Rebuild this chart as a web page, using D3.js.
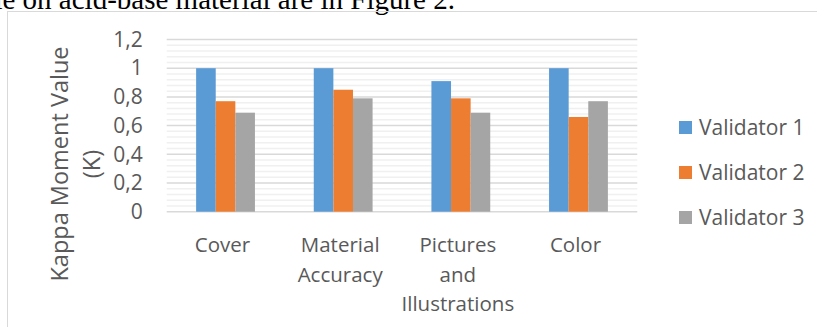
<!DOCTYPE html>
<html>
<head>
<meta charset="utf-8">
<script src="https://cdn.jsdelivr.net/npm/d3@7"></script>
<style>
  body { margin: 0; background: #fff; }
  text { font-family: "Open Sans", sans-serif; fill: #595959; }
</style>
</head>
<body>
<div id="chart"></div>
<script>
let categories = [["Cover"], ["Material", "Accuracy"], ["Pictures", "and", "Illustrations"], ["Color"]],
    seriesNames = ["Validator 1", "Validator 2", "Validator 3"],
    validator1 = [1, 1, 0.91, 1],
    validator2 = [0.77, 0.85, 0.79, 0.66],
    validator3 = [0.69, 0.79, 0.69, 0.77],
    tickValues = [0, 0.2, 0.4, 0.6, 0.8, 1, 1.2],
    colors = ["#5b9bd5", "#ed7d31", "#a5a5a5"];

let series = [validator1, validator2, validator3];

let svg = d3.select("#chart").append("svg").attr("width", 817).attr("height", 327),
    margin = { top: 39.5, left: 166.7, right: 179.7, bottom: 115.3 },
    width = 817 - margin.left - margin.right,
    height = 327 - margin.top - margin.bottom;

// text from the page above the chart
svg.append("text")
    .attr("x", 455)
    .attr("y", 8.5)
    .attr("text-anchor", "end")
    .style("font-family", "'Liberation Serif', serif")
    .style("font-size", "29px")
    .style("fill", "#000")
    .text("ble on acid-base material are in Figure 2.");

// chart frame
svg.append("rect")
    .attr("x", 7.5).attr("y", 11.5)
    .attr("width", 900).attr("height", 400)
    .attr("fill", "none")
    .attr("stroke", "#d9d9d9");

let g = svg.append("g").attr("transform", `translate(${margin.left},${margin.top})`);

let x0 = d3.scaleBand().domain(d3.range(categories.length)).range([0, width]),
    x1 = d3.scaleBand().domain(d3.range(series.length)).range([x0.bandwidth() * 0.25, x0.bandwidth() * 0.75]),
    y = d3.scaleLinear().domain([0, 1.2]).range([height, 0]);

// minor gridlines
g.append("g").selectAll("line")
    .data(d3.range(0, 1.2001, 0.04).filter((v, i) => i % 5 != 0))
    .join("line")
    .attr("x1", 0).attr("x2", width)
    .attr("y1", d => y(d)).attr("y2", d => y(d))
    .attr("stroke", "#f0f0f0")
    .attr("stroke-width", 1.5);

// major gridlines
g.append("g").selectAll("line")
    .data(tickValues)
    .join("line")
    .attr("x1", 0).attr("x2", width)
    .attr("y1", d => y(d)).attr("y2", d => y(d))
    .attr("stroke", "#d9d9d9")
    .attr("stroke-width", 1.5);

// y tick labels
g.append("g")
    .call(d3.axisLeft(y).tickValues(tickValues).tickSize(0).tickPadding(24)
        .tickFormat(d => String(d).replace(".", ",")))
    .call(a => a.select(".domain").remove())
    .selectAll("text")
    .style("font-size", "21px")
    .attr("fill", null);

// bars
g.append("g").selectAll("g")
    .data(categories)
    .join("g")
    .attr("transform", (d, i) => `translate(${x0(i)},0)`)
    .selectAll("rect")
    .data((d, i) => series.map((s, j) => ({ j: j, v: s[i] })))
    .join("rect")
    .attr("x", d => x1(d.j))
    .attr("width", x1.bandwidth())
    .attr("y", d => y(d.v))
    .attr("height", d => height - y(d.v))
    .attr("fill", d => colors[d.j]);

// category labels
g.append("g").selectAll("text")
    .data(categories)
    .join("text")
    .attr("transform", (d, i) => `translate(${x0(i) + x0.bandwidth() / 2 - 3},${height + 40.5})`)
    .attr("text-anchor", "middle")
    .style("font-size", "20.5px")
    .selectAll("tspan")
    .data(d => d)
    .join("tspan")
    .attr("x", 0)
    .attr("dy", (d, i) => i ? 29.5 : 0)
    .text(d => d);

// y axis title
svg.append("text")
    .attr("transform", `translate(68,164) rotate(-90)`)
    .attr("text-anchor", "middle")
    .style("font-size", "23.5px")
    .selectAll("tspan")
    .data(["Kappa Moment Value", "(K)"])
    .join("tspan")
    .attr("x", 0)
    .attr("dy", (d, i) => i ? 32 : 0)
    .text(d => d);

// legend
let legend = svg.append("g").attr("transform", "translate(679,121)")
    .selectAll("g")
    .data(seriesNames)
    .join("g")
    .attr("transform", (d, i) => `translate(0,${i * 45})`);

legend.append("rect")
    .attr("width", 13).attr("height", 13)
    .attr("fill", (d, i) => colors[i]);

legend.append("text")
    .attr("x", 20)
    .attr("y", 14)
    .style("font-size", "21px")
    .text(d => d);
</script>
</body>
</html>
